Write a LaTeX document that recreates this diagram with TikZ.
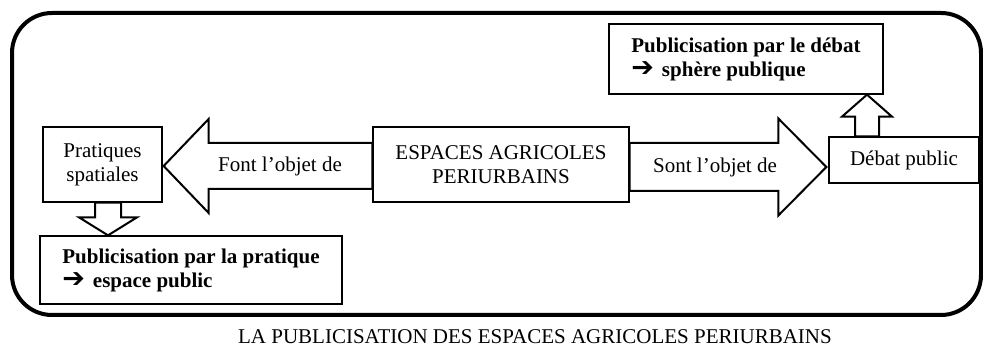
\documentclass[tikz,border=0pt]{standalone}
\usepackage{fontspec}
\setmainfont{Liberation Serif}
\newfontfamily\arrowfont{DejaVu Sans}
\newcommand{\barr}{{\arrowfont\fontsize{27}{24}\selectfont ➔}\hspace{8pt}}
\usetikzlibrary{calc}
\begin{document}
\begin{tikzpicture}[x=1pt,y=-1pt,
  every node/.style={font=\fontsize{21}{24}\selectfont, inner sep=0pt},
  bbox/.style={draw, line width=1.3pt, align=center},
  boldbox/.style={draw, line width=1.3pt, align=left, font=\fontsize{21}{24}\selectfont\bfseries},
  barrow/.style={draw, line width=2pt, fill=white, line join=miter}]
\useasboundingbox (0,0) rectangle (983,347);
\draw[line width=4pt, rounded corners=40pt] (12,13) rectangle (981,315);
% boxes
\node[bbox, minimum width=119pt, minimum height=75pt] (prat) at (102.5,164.5) {Pratiques\\spatiales};
\node[bbox, minimum width=256pt, minimum height=75pt] (esp) at (501,164.5) {ESPACES AGRICOLES\\PERIURBAINS};
\node[boldbox, minimum width=302pt, minimum height=68pt] (pubprat) at (191,270) {Publicisation par la pratique\\\barr espace public};
\node[bbox, minimum width=150pt, minimum height=46pt] (deb) at (904,160) {Débat public};
\node[boldbox, minimum width=274pt, minimum height=70pt] (pubdeb) at (746,59) {Publicisation par le débat\\\barr sphère publique};
% left block arrow
\coordinate (lt) at ($(prat.east)+(1,1.5)$);
\coordinate (lb) at ($(esp.west)+(0,1.5)$);
\draw[barrow] (lt) -- ($(lt)+(45,-47)$) -- ($(lt)+(45,-23)$) -- ($(lb)+(0,-23)$) -- ($(lb)+(0,23)$) -- ($(lt)+(45,23)$) -- ($(lt)+(45,47)$) -- cycle;
% right block arrow
\coordinate (rb) at ($(esp.east)+(0,2.5)$);
\coordinate (rt) at ($(esp.east -| deb.west)+(-2,2.5)$);
\draw[barrow] ($(rb)+(0,-24)$) -- ($(rt)+(-48,-24)$) -- ($(rt)+(-48,-48.5)$) -- (rt) -- ($(rt)+(-48,48.5)$) -- ($(rt)+(-48,24)$) -- ($(rb)+(0,24)$) -- cycle;
% up block arrow
\coordinate (ub) at ($(deb.north)+(-37,0)$);
\coordinate (ut) at (ub |- pubdeb.south);
\draw[barrow] ($(ub)+(-12,0)$) -- ($(ut)+(-12,22)$) -- ($(ut)+(-25,22)$) -- (ut) -- ($(ut)+(25,22)$) -- ($(ut)+(12,22)$) -- ($(ub)+(12,0)$) -- cycle;
% down block arrow
\coordinate (db) at ($(prat.south)+(5.5,0)$);
\coordinate (dt) at (db |- pubprat.north);
\draw[barrow] ($(db)+(-13,0)$) -- ($(dt)+(-13,-18)$) -- ($(dt)+(-29,-18)$) -- (dt) -- ($(dt)+(29,-18)$) -- ($(dt)+(13,-18)$) -- ($(db)+(13,0)$) -- cycle;
% labels
\node (font) at (280,166) {Font l’objet de};
\node (sont) at (715,167) {Sont l’objet de};
\node[anchor=base] (cap) at (535,344) {LA PUBLICISATION DES ESPACES AGRICOLES PERIURBAINS};
\end{tikzpicture}
\end{document}
